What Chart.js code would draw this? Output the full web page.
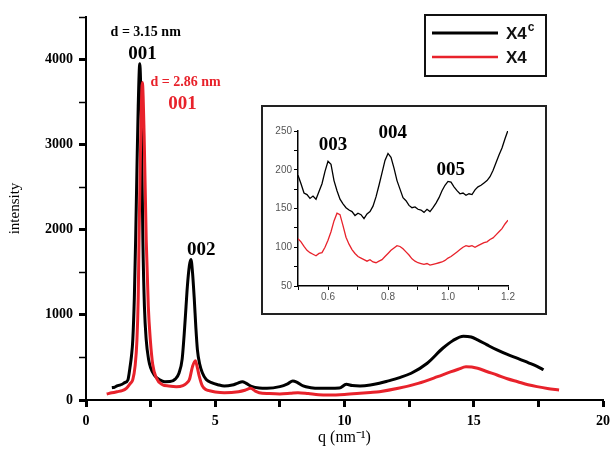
<!DOCTYPE html>
<html>
<head>
<meta charset="utf-8">
<script src="https://cdn.jsdelivr.net/npm/chart.js@4.4.1/dist/chart.umd.min.js"></script>
<style>
  body { margin: 0; background: #fff; }
  #wrap { position: relative; width: 611px; height: 457px; }
  #main { position: absolute; left: 0; top: 0; }
  #insetBox {
    position: absolute; left: 261px; top: 105px;
    width: 282px; height: 206px;
    border: 2px solid #222; background: #fff;
  }
</style>
</head>
<body>
<div id="wrap">
  <canvas id="main" width="611" height="457"></canvas>
  <div id="insetBox"><canvas id="inset" width="282" height="206"></canvas></div>
</div>
<script>
// main pattern, q in nm^-1
const qX4c = [1.0, 1.1, 1.2, 1.3, 1.4, 1.5, 1.62, 1.7, 1.76, 1.81, 1.87, 1.92, 1.97, 2.02, 2.08, 2.14, 2.2, 2.26, 2.33, 2.42,
  2.5, 2.65, 2.85, 3.05, 3.25, 3.45, 3.6, 3.72, 3.8, 3.87, 3.92, 4.0, 4.06, 4.12, 4.19, 4.25, 4.31, 4.4, 4.5, 4.65,
  4.88, 5.1, 5.35, 5.66, 5.85, 6.05, 6.2, 6.4, 6.7, 7.0, 7.5, 7.8, 8.0, 8.15, 8.4, 8.7, 9.0, 9.4, 9.8, 10.07,
  10.3, 10.6, 11.0, 11.35, 11.7, 12.1, 12.58, 13.2, 13.8, 14.2, 14.6, 14.9, 15.15, 15.5, 15.9, 16.3, 16.7, 17.1, 17.45, 17.7];
const iX4c = [145, 150, 165, 175, 185, 205, 235, 380, 520, 706, 1200, 1880, 2700, 3450, 3950, 3300, 1880, 1100, 706, 480,
  380, 290, 238, 215, 216, 245, 318, 480, 780, 1100, 1330, 1580, 1650, 1500, 1180, 850, 590, 420, 320, 240,
  200, 180, 165, 176, 195, 215, 195, 160, 140, 137, 157, 190, 223, 210, 165, 145, 137, 137, 140, 184,
  170, 165, 175, 196, 225, 260, 314, 432, 608, 700, 750, 740, 706, 650, 588, 535, 490, 440, 395, 355];

const qX4 = [0.8, 1.0, 1.2, 1.4, 1.56, 1.7, 1.81, 1.9, 1.97, 2.02, 2.05, 2.1, 2.18, 2.25, 2.33, 2.41, 2.49, 2.58, 2.72, 2.96,
  3.2, 3.5, 3.75, 3.9, 4.0, 4.12, 4.23, 4.3, 4.38, 4.5, 4.65, 4.77, 5.0, 5.35, 5.9, 6.15, 6.37, 6.55, 6.7, 7.1,
  7.5, 7.9, 8.2, 8.6, 9.0, 9.4, 10.0, 10.6, 11.0, 11.35, 12.08, 12.85, 13.6, 14.1, 14.4, 14.7, 15.15, 15.5, 15.9, 16.3,
  16.7, 17.1, 17.45, 17.85, 18.3];
const iX4 = [70, 85, 98, 110, 137, 190, 240, 400, 700, 1200, 1850, 2800, 3730, 3100, 1880, 1100, 700, 420, 260, 180,
  165, 157, 170, 200, 240, 392, 462, 390, 280, 165, 120, 110, 95, 86, 98, 115, 137, 105, 86, 75,
  70, 78, 86, 75, 62, 59, 65, 78, 88, 98, 137, 196, 274, 330, 361, 390, 373, 335, 294, 250,
  215, 180, 157, 135, 118];

// inset, low-q region
const qInset = [0.50, 0.51, 0.52, 0.53, 0.54, 0.55, 0.56, 0.57, 0.58, 0.59, 0.60, 0.61, 0.62, 0.63, 0.64, 0.65, 0.66, 0.67, 0.68, 0.69,
  0.70, 0.71, 0.72, 0.73, 0.74, 0.75, 0.76, 0.77, 0.78, 0.79, 0.80, 0.81, 0.82, 0.83, 0.84, 0.85, 0.86, 0.87, 0.88, 0.89,
  0.90, 0.91, 0.92, 0.93, 0.94, 0.95, 0.96, 0.97, 0.98, 0.99, 1.00, 1.01, 1.02, 1.03, 1.04, 1.05, 1.06, 1.07, 1.08, 1.09,
  1.10, 1.11, 1.12, 1.13, 1.14, 1.15, 1.16, 1.17, 1.18, 1.19, 1.20];
const insetX4c = [193, 182, 170, 168, 163, 166, 162, 172, 182, 198, 211, 207, 186, 173, 162, 156, 151, 148, 146, 141,
  144, 142, 137, 143, 146, 153, 165, 180, 196, 212, 221, 216, 202, 186, 175, 164, 160, 154, 151, 152,
  149, 148, 145, 149, 146, 151, 157, 164, 173, 180, 185, 184, 178, 173, 169, 170, 167, 169, 168, 174,
  178, 180, 183, 186, 191, 199, 209, 219, 228, 240, 251];
const insetX4 = [111, 107, 101, 96, 93, 91, 89, 92, 93, 100, 109, 120, 134, 144, 142, 128, 113, 104, 97, 92,
  88, 86, 84, 82, 84, 81, 80, 82, 84, 88, 92, 96, 99, 102, 101, 98, 94, 90, 85, 82,
  80, 79, 78, 79, 77, 78, 79, 80, 81, 83, 86, 88, 91, 94, 97, 100, 102, 101, 102, 100,
  102, 104, 106, 107, 110, 112, 116, 120, 124, 130, 135];

const seriesNames = ['X4', 'X4c'];
const BLACK = '#000000';
const RED = '#e8222b';

// peak labels: text, q, intensity, colour, font
const mainNotes = [
  ['d = 3.15 nm', 2.31, 4318, BLACK, 'bold 14px "Liberation Serif"'],
  ['001', 2.19, 4059, BLACK, 'bold 19px "Liberation Serif"'],
  ['d = 2.86 nm', 3.85, 3729, RED, 'bold 14px "Liberation Serif"'],
  ['001', 3.73, 3482, RED, 'bold 19px "Liberation Serif"'],
  ['002', 4.46, 1765, BLACK, 'bold 19px "Liberation Serif"'],
];
const insetNotes = [
  ['003', 0.617, 232, BLACK, 'bold 19px "Liberation Serif"'],
  ['004', 0.816, 247, BLACK, 'bold 19px "Liberation Serif"'],
  ['005', 1.009, 200, BLACK, 'bold 19px "Liberation Serif"'],
];

const toPoints = (xs, ys) => xs.map((x, i) => ({ x, y: ys[i] }));

const notesPlugin = {
  id: 'notes',
  afterDraw(chart, args, opts) {
    const { ctx, scales } = chart;
    ctx.save();
    ctx.textAlign = 'center';
    ctx.textBaseline = 'middle';
    opts.items.forEach(([text, q, val, color, font]) => {
      ctx.font = font;
      ctx.fillStyle = color;
      ctx.fillText(text, scales.x.getPixelForValue(q), scales.y.getPixelForValue(val));
    });
    ctx.restore();
  },
};

const boxLegend = {
  id: 'boxLegend',
  afterDraw(chart) {
    const { ctx } = chart;
    ctx.save();
    ctx.lineWidth = 2;
    ctx.strokeStyle = '#111';
    ctx.strokeRect(425, 15, 121, 61);
    const rows = [chart.data.datasets[1], chart.data.datasets[0]];
    rows.forEach((ds, i) => {
      const y = 33 + i * 24;
      ctx.beginPath();
      ctx.strokeStyle = ds.borderColor;
      ctx.lineWidth = i === 0 ? 3 : 2.5;
      ctx.moveTo(432, y);
      ctx.lineTo(498, y);
      ctx.stroke();
      ctx.fillStyle = '#111';
      ctx.font = 'bold 17px "Liberation Sans"';
      ctx.textBaseline = 'middle';
      ctx.textAlign = 'left';
      const base = ds.label.replace(/c$/, '');
      ctx.fillText(base, 506, y + 1);
      if (base !== ds.label) {
        const w = ctx.measureText(base).width;
        ctx.font = 'bold 12px "Liberation Sans"';
        ctx.fillText('c', 506 + w + 1, y - 5);
      }
    });
    ctx.restore();
  },
};

const tickGrid = (len, major, minor, isMajor) => ({
  display: true,
  drawOnChartArea: false,
  drawTicks: true,
  tickLength: len,
  tickColor: '#000',
  tickWidth: (c) => (c.tick && isMajor(c.tick.value) ? major : minor),
});

new Chart(document.getElementById('main').getContext('2d'), {
  type: 'line',
  data: {
    datasets: [
      { label: seriesNames[0], data: toPoints(qX4, iX4), borderColor: RED, order: 0 },
      { label: seriesNames[1] , data: toPoints(qX4c, iX4c), borderColor: BLACK, order: 1 },
    ],
  },
  options: {
    responsive: false,
    animation: false,
    layout: { padding: { left: 0, top: 17, right: 8, bottom: 0 } },
    elements: {
      point: { radius: 0 },
      line: { borderWidth: 3, cubicInterpolationMode: 'monotone', fill: false },
    },
    scales: {
      x: {
        type: 'linear',
        min: 0,
        max: 20,
        afterFit: (s) => { s.height = 57; s.paddingRight = 0; s.paddingLeft = 0; },
        border: { display: true, color: '#000', width: 2 },
        grid: tickGrid(7, 3, 3, (v) => v % 5 === 0),
        ticks: {
          stepSize: 2.5,
          autoSkip: false,
          maxRotation: 0,
          padding: 6,
          color: '#000',
          font: { family: 'Liberation Serif', size: 14, weight: 'bold' },
          callback: (v) => (v % 5 === 0 ? v : ''),
        },
        title: {
          display: true,
          text: 'q (nm\u207B\u00B9)',
          color: '#000',
          font: { family: 'Liberation Serif', size: 16 },
          padding: { top: 0, bottom: 10 },
        },
      },
      y: {
        min: 0,
        max: 4500,
        afterFit: (s) => { s.width = 86; },
        border: { display: true, color: '#000', width: 2 },
        grid: tickGrid(7, 3, 1.5, (v) => v % 1000 === 0),
        ticks: {
          stepSize: 500,
          autoSkip: false,
          padding: 6,
          color: '#000',
          font: { family: 'Liberation Serif', size: 14, weight: 'bold' },
          callback: (v) => (v % 1000 === 0 ? v : ''),
        },
        title: {
          display: true,
          text: 'intensity',
          color: '#000',
          font: { family: 'Liberation Serif', size: 15 },
          padding: { top: 6, bottom: 0 },
        },
      },
    },
    plugins: {
      legend: { display: false },
      tooltip: { enabled: false },
      notes: { items: mainNotes },
    },
  },
  plugins: [notesPlugin, boxLegend],
});

new Chart(document.getElementById('inset').getContext('2d'), {
  type: 'line',
  data: {
    datasets: [
      { label: seriesNames[0], data: toPoints(qInset, insetX4), borderColor: RED },
      { label: seriesNames[1], data: toPoints(qInset, insetX4c), borderColor: BLACK },
    ],
  },
  options: {
    responsive: false,
    animation: false,
    layout: { padding: { left: 0, top: 24, right: 37, bottom: 0 } },
    elements: {
      point: { radius: 0 },
      line: { borderWidth: 1.3, tension: 0, fill: false },
    },
    scales: {
      x: {
        type: 'linear',
        min: 0.5,
        max: 1.2,
        afterFit: (s) => { s.height = 27; },
        border: { display: true, color: '#000', width: 1.5 },
        grid: tickGrid(4, 1, 1, () => true),
        ticks: {
          stepSize: 0.1,
          autoSkip: false,
          maxRotation: 0,
          padding: 1,
          color: '#555',
          font: { family: 'Liberation Sans', size: 10 },
          callback: (v) => {
            const k = Math.round(v * 10);
            return k % 2 === 0 ? (k / 10).toFixed(1) : '';
          },
        },
      },
      y: {
        min: 50,
        max: 250,
        afterFit: (s) => { s.width = 35; },
        border: { display: true, color: '#000', width: 1.5 },
        grid: tickGrid(4, 1, 1, () => true),
        ticks: {
          stepSize: 25,
          autoSkip: false,
          padding: 2,
          color: '#555',
          font: { family: 'Liberation Sans', size: 10 },
          callback: (v) => (v % 50 === 0 ? v : ''),
        },
      },
    },
    plugins: {
      legend: { display: false },
      tooltip: { enabled: false },
      notes: { items: insetNotes },
    },
  },
  plugins: [notesPlugin],
});
</script>
</body>
</html>
